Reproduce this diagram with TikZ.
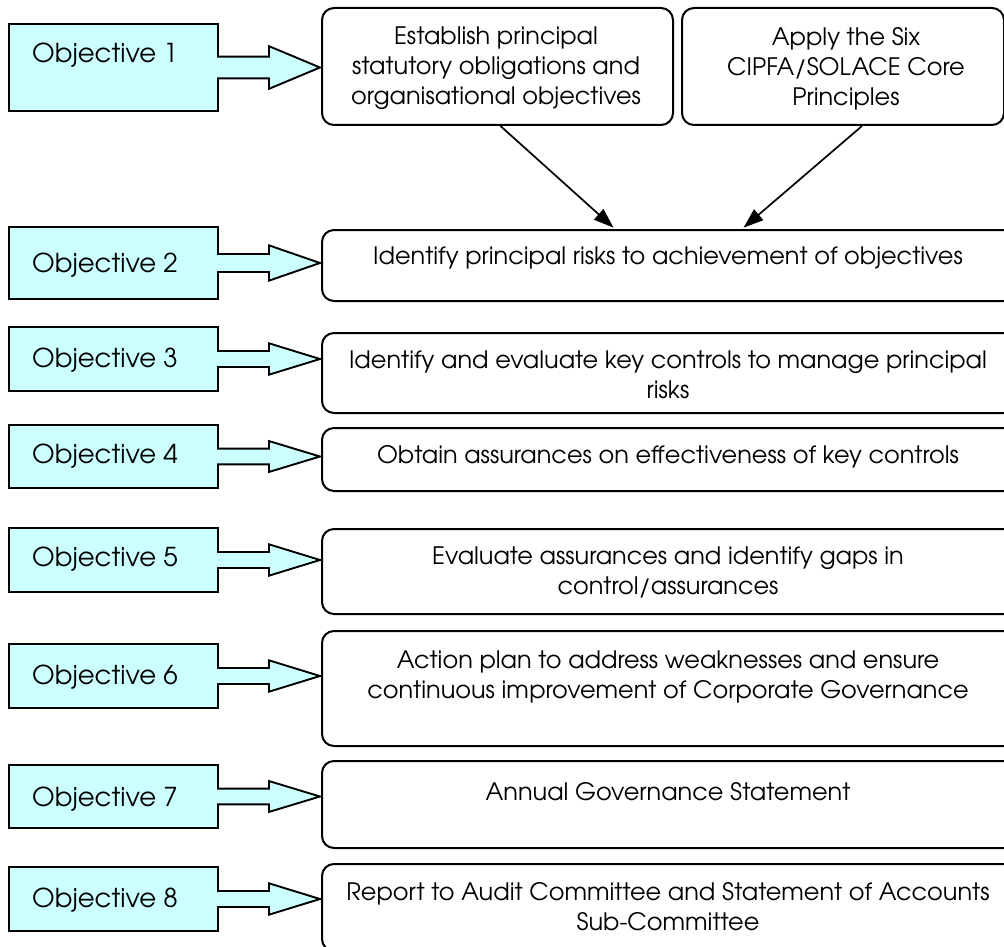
\documentclass[tikz,border=0pt]{standalone}
\usepackage{fontspec}
\setmainfont{texgyreadventor-regular.otf}
\usetikzlibrary{arrows.meta}
\definecolor{objfill}{HTML}{CCFFFF}
\tikzset{
  objshape/.style={draw=black, fill=objfill, line width=1.9pt, line join=miter},
  objlabel/.style={font=\fontsize{26}{30}\selectfont, inner sep=0pt, anchor=center},
  stepbox/.style={draw=black, line width=2pt, rounded corners=12pt, fill=white, inner sep=0pt, anchor=north west},
  boxtext/.style={font=\fontsize{24}{30}\selectfont, align=center, inner sep=0pt},
  conn/.style={line width=1.7pt, -{Triangle[length=20pt,width=14pt]}, shorten >=2pt},
}
\newcommand\objarrow[2]{%
  \pgfmathsetmacro\yc{(#1+#2)/2}%
  \pgfmathsetmacro\ys{0.125*(#2-#1)}%
  \pgfmathsetmacro\yh{0.245*(#2-#1)}%
  \draw[objshape] (9,#1) -- (218,#1) -- (218,\yc-\ys) -- (269,\yc-\ys) -- (269,\yc-\yh) -- (320,\yc) -- (269,\yc+\yh) -- (269,\yc+\ys) -- (218,\yc+\ys) -- (218,#2) -- (9,#2) -- cycle;%
}
\begin{document}
\begin{tikzpicture}[x=1pt, y=-1pt]
\useasboundingbox (0,0) rectangle (1004,947);
\clip (0,0) rectangle (1004,947);
\fill[white] (0,0) rectangle (1004,947);

% objectives
\objarrow{24}{111}
\node[objlabel] (o1) at (105,55) {Objective 1};
\objarrow{227}{299}
\node[objlabel] (o2) at (105,265) {Objective 2};
\objarrow{327}{391}
\node[objlabel] (o3) at (105,360) {Objective 3};
\objarrow{425}{488}
\node[objlabel] (o4) at (105,456) {Objective 4};
\objarrow{528}{592}
\node[objlabel] (o5) at (105,559) {Objective 5};
\objarrow{644}{708}
\node[objlabel] (o6) at (105,677) {Objective 6};
\objarrow{765}{828}
\node[objlabel] (o7) at (105,799) {Objective 7};
\objarrow{867}{931}
\node[objlabel] (o8) at (105,900) {Objective 8};

% boxes
\node[stepbox, minimum width=351pt, minimum height=117pt] (b1) at (321,7) {};
\node[stepbox, minimum width=322pt, minimum height=117pt] (b1r) at (681,7) {};
\node[stepbox, minimum width=694pt, minimum height=71pt] (b2) at (321,229) {};
\node[stepbox, minimum width=694pt, minimum height=80pt] (b3) at (321,332) {};
\node[stepbox, minimum width=694pt, minimum height=63pt] (b4) at (321,427) {};
\node[stepbox, minimum width=694pt, minimum height=85pt] (b5) at (321,528) {};
\node[stepbox, minimum width=694pt, minimum height=115pt] (b6) at (321,630) {};
\node[stepbox, minimum width=694pt, minimum height=87pt] (b7) at (321,760) {};
\node[stepbox, minimum width=694pt, minimum height=87pt] (b8) at (321,863) {};

% texts
\node[boxtext] (t1) at (496,68) {Establish principal\\statutory obligations and\\organisational objectives};
\node[boxtext] (t1r) at (846,69) {Apply the Six\\CIPFA/SOLACE Core\\Principles};
\node[boxtext] (t2) at (668,258) {Identify principal risks to achievement of objectives};
\node[boxtext] (t3) at (668,375) {Identify and evaluate key controls to manage principal\\risks};
\node[boxtext] (t4) at (668,457) {Obtain assurances on effectiveness of key controls};
\node[boxtext] (t5) at (668,572) {Evaluate assurances and identify gaps in\\control/assurances};
\node[boxtext] (t6) at (668,677) {Action plan to address weaknesses and ensure\\continuous improvement of Corporate Governance};
\node[boxtext] (t7) at (668,792) {Annual Governance Statement};
\node[boxtext] (t8) at (668,907) {Report to Audit Committee and Statement of Accounts\\Sub-Committee};

% connectors
\coordinate (tA) at (615,0);
\coordinate (tB) at (742,0);
\draw[conn] ([xshift=3pt]b1.south) -- (tA |- b2.north);
\draw[conn] ([xshift=19pt]b1r.south) -- (tB |- b2.north);
\end{tikzpicture}
\end{document}
